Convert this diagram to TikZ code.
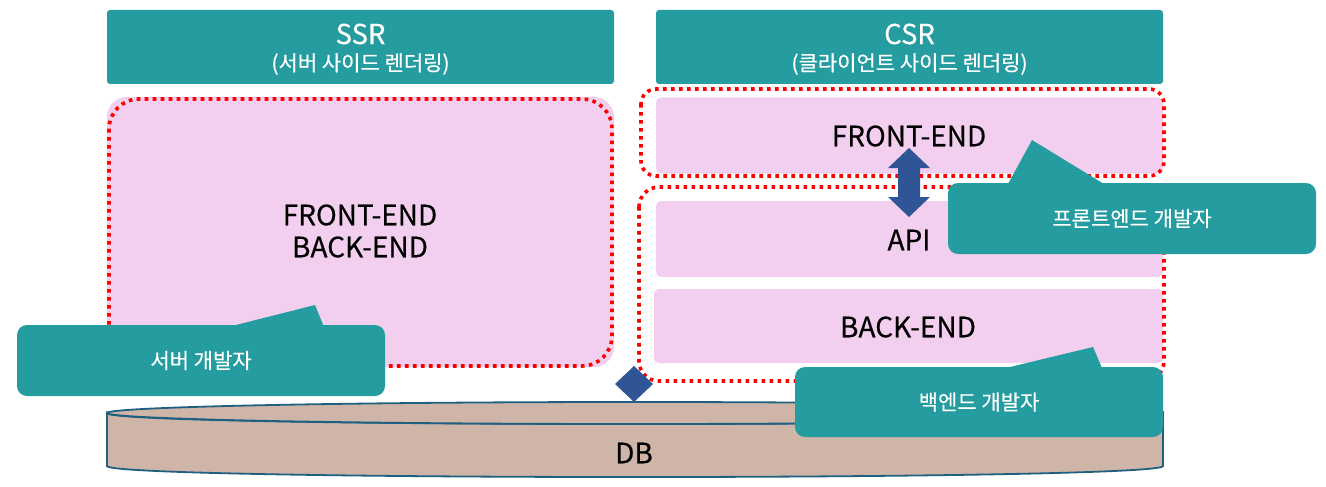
\documentclass[tikz,border=0pt]{standalone}
\usepackage{fontspec}
\setmainfont{Noto Sans CJK KR}[FakeBold=0.35]
\definecolor{teal1}{HTML}{259C9F}
\definecolor{pink1}{HTML}{F2CFEE}
\definecolor{blue1}{HTML}{2F5597}
\definecolor{dbfill}{HTML}{CFB5A8}
\definecolor{dbline}{HTML}{1F5F7F}
\tikzset{
  header/.style={fill=teal1, rounded corners=3pt, minimum width=507pt, minimum height=74pt, inner sep=0pt},
  pinkbox/.style={fill=pink1, rounded corners=5pt, inner sep=0pt},
  redline/.style={draw=red, line width=3.6pt, dash pattern=on 3.6pt off 4.4pt},
  callout/.style={fill=teal1, rounded corners=10pt, minimum width=368pt, minimum height=71pt, inner sep=0pt, text=white, font=\fontsize{21}{23}\selectfont},
  bigtxt/.style={font=\fontsize{28}{31}\selectfont, text=black, inner sep=0pt},
  htitle/.style={font=\fontsize{27.5}{30}\selectfont, text=white, inner sep=0pt},
  hsub/.style={font=\fontsize{21}{23}\selectfont, text=white, inner sep=0pt},
}
\begin{document}
\begin{tikzpicture}[x=1pt,y=-1pt]
\useasboundingbox (0,0) rectangle (1326,487);
% headers
\node[header] (ssrh) at (360.5,47) {};
\node[htitle] (ssrt) at (360.5,34) {SSR};
\node[hsub] (ssrs) at (360.5,64) {(서버 사이드 렌더링)};
\node[header] (csrh) at (909.5,47) {};
\node[htitle] (csrt) at (909.5,34) {CSR};
\node[hsub] (csrs) at (909.5,64) {(클라이언트 사이드 렌더링)};
% SSR pink
\node[pinkbox, rounded corners=20pt, minimum width=507pt, minimum height=270pt] (ssrbox) at (360.5,232) {};
\node[bigtxt, align=center] (ssrtxt) at (360,231) {FRONT-END\\[1pt]BACK-END};
% CSR boxes
\node[pinkbox, minimum width=507pt, minimum height=76pt] (fe) at (909.5,135.5) {};
\node[bigtxt] (fetxt) at (909,136) {FRONT-END};
\node[pinkbox, minimum width=507pt, minimum height=76pt] (api) at (909.5,239) {};
\node[bigtxt] (apitxt) at (909,240) {API};
\node[pinkbox, minimum width=509pt, minimum height=74pt] (be) at (908.5,326) {};
\node[bigtxt] (betxt) at (908,327) {BACK-END};
% red dotted borders
\draw[redline, rounded corners=30pt] (109,99) rectangle (612,366);
\draw[redline, rounded corners=15pt] (641,89) rectangle (1164,176);
\draw[redline, rounded corners=20pt] (639,187) rectangle (1164,381);
% double arrow
\fill[blue1] (909,148) -- (930,168) -- (920,168) -- (920,197) -- (930,197) -- (909,217)
  -- (888,197) -- (898,197) -- (898,168) -- (888,168) -- cycle;
% DB cylinder
\filldraw[fill=dbfill, draw=dbline, line width=1.8pt]
  (107,413) -- (107,466) .. controls (107,480.7) and (1163,480.7) .. (1163,466)
  -- (1163,413) .. controls (1163,427.7) and (107,427.7) .. (107,413) -- cycle;
\filldraw[fill=dbfill, draw=dbline, line width=1.8pt] (635,413) ellipse [x radius=528, y radius=11];
\node[bigtxt] (db) at (634,453) {DB};
% diamond
\fill[blue1] (634,366) -- (653,384) -- (634,402) -- (615,384) -- cycle;
% callouts
\fill[teal1] (1008,184) -- (1032,140) -- (1104,184) -- cycle;
\node[callout] (fedev) at (1132,218.5) {프론트엔드 개발자};
\fill[teal1] (232,326) -- (315,305) -- (324,327) -- cycle;
\node[callout] (srvdev) at (201,360.5) {서버 개발자};
\fill[teal1] (1010,367) -- (1093,347) -- (1102,368) -- cycle;
\node[callout, minimum height=70pt] (bedev) at (979,402) {백엔드 개발자};
\end{tikzpicture}
\end{document}
